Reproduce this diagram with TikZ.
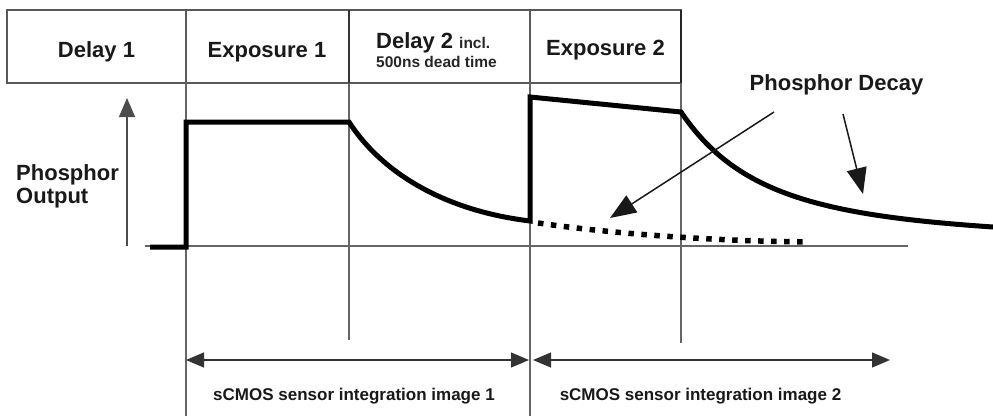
\documentclass[tikz,border=0pt]{standalone}
\usepackage{fontspec}
\setmainfont{Liberation Sans}
\usetikzlibrary{arrows.meta}
\begin{document}
\begin{tikzpicture}[x=1pt,y=-1pt,
  frame/.style={draw=black!65,line width=1.4pt},
  gridline/.style={draw=black!60,line width=1.2pt},
  sig/.style={line width=5pt,line join=miter,line cap=butt},
  dotsig/.style={line width=5.5pt,dash pattern=on 5.5pt off 7.5pt},
  big/.style={font=\bfseries\fontsize{22}{24}\selectfont,text=black!90,inner sep=0pt,anchor=base},
  small/.style={font=\bfseries\fontsize{15.5}{17}\selectfont,text=black!85,inner sep=0pt,anchor=base west},
  captext/.style={font=\bfseries\fontsize{17}{19}\selectfont,text=black!90,inner sep=0pt,anchor=base},
  tipbig/.style={-{Triangle[length=26pt,width=20pt]},line width=1.5pt,draw=black!90},
  dim/.style={{Triangle[length=18pt,width=15pt]}-{Triangle[length=18pt,width=15pt]},line width=1.2pt,draw=black!80}
]
\useasboundingbox (0,0) rectangle (993,416);

% header cells
\draw[frame] (7,10) rectangle (681,83);
\draw[frame] (186,10) -- (186,83);
\draw[frame,draw=black!80] (349,10) -- (349,83);
\draw[frame] (530,10) -- (530,83);
\draw[frame,draw=black!85,line width=1.8pt] (681,10) -- (681,83);

\node[big] (t1) at (96.5,57) {Delay 1};
\node[big] (t2) at (267,57) {Exposure 1};
\node[big,anchor=base west] (t3) at (376,48) {Delay 2};
\node[small] (t3b) at (459,48) {incl.};
\node[small] (t3c) at (376,67) {500ns dead time};
\node[big] (t4) at (605.5,55) {Exposure 2};

% vertical grid lines
\draw[gridline] (186,83) -- (186,416);
\draw[gridline] (349,83) -- (349,340);
\draw[gridline] (530,83) -- (530,416);
\draw[gridline] (681,83) -- (681,343);

% baseline
\draw[gridline] (145,246) -- (908,246);

% axis arrow
\coordinate (ax0) at (127,246);
\coordinate (ax1) at (127,98);
\draw[-{Triangle[length=19pt,width=16pt]},line width=1.2pt,draw=black!70] (ax0) -- (ax1);

\node[big,anchor=base west] (po1) at (16,180) {Phosphor};
\node[big,anchor=base west] (po2) at (16,203) {Output};

% signal
\coordinate (s0) at (150,247);
\coordinate (s1) at (186,247);
\coordinate (s2) at (186,122);
\coordinate (s3) at (349,122);
\coordinate (s4) at (530,221);
\coordinate (s5) at (530,97);
\coordinate (s6) at (681,112);
\coordinate (s7) at (993,227);
\draw[sig] (s0) -- (s1) -- (s2) -- (s3)
  .. controls (380,170) and (440,210) .. (s4) -- (s5) -- (s6)
  .. controls (735,192) and (815,215) .. (s7);

% dotted decay
\coordinate (d0) at (538,223);
\coordinate (d1) at (810,242);
\draw[dotsig] (d0) .. controls (600,232) and (700,241) .. (d1);

% phosphor decay label and arrows
\node[big] (pd) at (836.5,90) {Phosphor Decay};
\coordinate (a1s) at (774,112);
\coordinate (a1e) at (610,218);
\coordinate (a2s) at (843,114);
\coordinate (a2e) at (863,194);
\draw[tipbig] (a1s) -- (a1e);
\draw[tipbig] (a2s) -- (a2e);

% integration arrows
\coordinate (b1s) at (186,360);
\coordinate (b1e) at (529,360);
\coordinate (b2s) at (533,360);
\coordinate (b2e) at (890,360);
\draw[dim] (b1s) -- (b1e);
\draw[dim] (b2s) -- (b2e);
\node[captext] (c1) at (354,400) {sCMOS sensor integration image 1};
\node[captext] (c2) at (700.5,400) {sCMOS sensor integration image 2};
\end{tikzpicture}
\end{document}
